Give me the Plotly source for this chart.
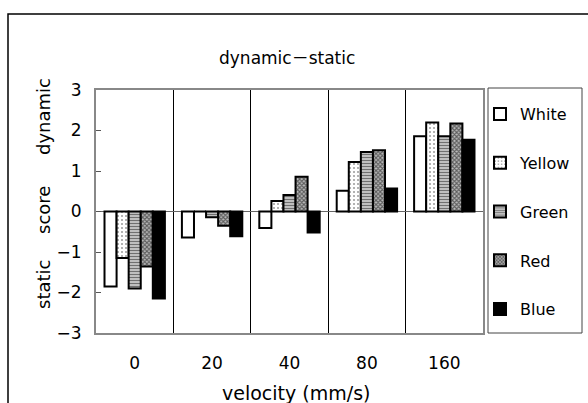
import plotly.graph_objects as go

# Velocity categories (mm/s) and score differences (dynamic − static) per colour
velocities = ["0", "20", "40", "80", "160"]
white = [-1.85, -0.64, -0.41, 0.51, 1.86]
yellow = [-1.15, 0.0, 0.26, 1.22, 2.20]
green = [-1.90, -0.14, 0.41, 1.47, 1.86]
red = [-1.36, -0.35, 0.86, 1.51, 2.17]
blue = [-2.15, -0.61, -0.52, 0.57, 1.77]
y_ticks = [-3, -2, -1, 0, 1, 2, 3]

W, H = 588, 403
L, R, T, B = 96, 483, 90, 333  # plot area in pixels
FONT = "DejaVu Sans, Noto Sans CJK JP, sans-serif"


def px_x(p):
    return (p - L) / (R - L)


def px_y(p):
    return (B - p) / (B - T)


series = [
    ("White", white, dict(color="white")),
    ("Yellow", yellow, dict(color="white", pattern=dict(shape=".", fgcolor="#333",
                                                        bgcolor="white", size=4, solidity=0.2))),
    ("Green", green, dict(color="white", pattern=dict(shape="-", fgcolor="#111",
                                                      bgcolor="#cfcfcf", size=3, solidity=0.45))),
    ("Red", red, dict(color="white", pattern=dict(shape="x", fgcolor="#000",
                                                  bgcolor="#bbb", size=3, solidity=0.6))),
    ("Blue", blue, dict(color="black")),
]

fig = go.Figure()
for i, (name, vals, mk) in enumerate(series):
    mk = dict(mk)
    mk["line"] = dict(color="black", width=2)
    fig.add_trace(go.Bar(x=velocities, y=vals, name=name, marker=mk,
                         legendgroup=name, legendrank=i + 1))

fig.update_layout(
    width=W, height=H,
    margin=dict(l=L, r=W - R, t=T, b=H - B),
    paper_bgcolor="white", plot_bgcolor="white",
    barmode="group", bargap=0.22, bargroupgap=0,
    font=dict(family=FONT, size=17, color="black"),
    showlegend=True,
    legend=dict(
        x=px_x(480), y=px_y(97), xanchor="left", yanchor="top",
        bgcolor="rgba(0,0,0,0)", borderwidth=0,
        font=dict(family=FONT, size=16, color="black"),
        traceorder="grouped", tracegroupgap=25, itemwidth=30,
    ),
    xaxis=dict(
        type="category", tickson="boundaries", ticks="",
        showgrid=True, gridcolor="black", gridwidth=1,
        showline=True, linecolor="#888", linewidth=2, mirror=True,
        ticklabelstandoff=14, tickfont=dict(size=17),
    ),
    yaxis=dict(
        range=[-3, 3], tickvals=y_ticks, ticks="inside", ticklen=5,
        tickcolor="#555", showgrid=False,
        zeroline=True, zerolinecolor="#666", zerolinewidth=1,
        showline=True, linecolor="#888", linewidth=2, mirror=True,
        tickfont=dict(size=17), ticklabelstandoff=9,
    ),
)

# Outer chart frame and legend box
fig.add_shape(type="rect", xref="paper", yref="paper",
              x0=px_x(8), x1=px_x(620), y0=px_y(14), y1=px_y(430),
              line=dict(color="black", width=1.5), layer="below")
fig.add_shape(type="rect", xref="paper", yref="paper",
              x0=px_x(488), x1=px_x(582), y0=px_y(88), y1=px_y(333),
              line=dict(color="#444", width=1))

# Title, axis titles
centered = dict(xref="paper", yref="paper", showarrow=False,
                xanchor="center", yanchor="middle")
fig.add_annotation(text="dynamic－static", x=px_x(287), y=px_y(58),
                   font=dict(size=17), **centered)
fig.add_annotation(text="velocity (mm/s)", x=px_x(296), y=px_y(393),
                   font=dict(size=19), **centered)
for word, yc in [("dynamic", 117), ("score", 210), ("static", 285)]:
    fig.add_annotation(text=word, x=px_x(43), y=px_y(yc), textangle=-90,
                       font=dict(size=18), **centered)

fig.write_html("out.html")
